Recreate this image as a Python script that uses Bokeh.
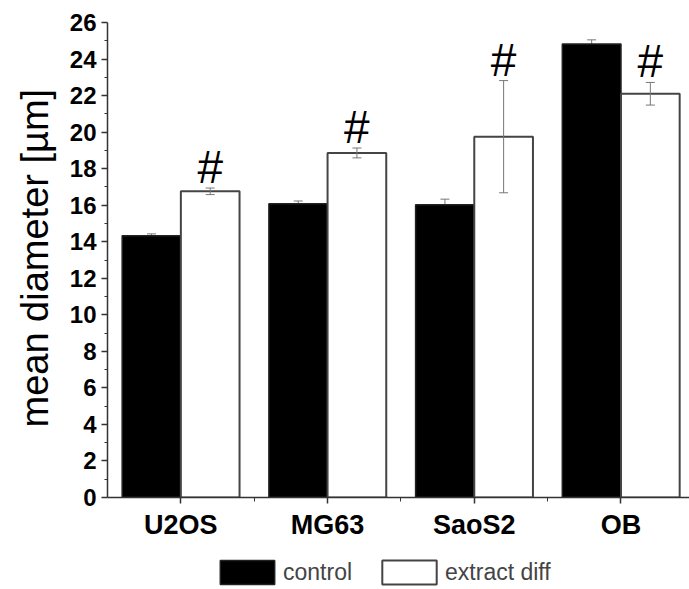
import numpy as np
from bokeh.plotting import figure
from bokeh.layouts import column
from bokeh.models import (ColumnDataSource, FixedTicker, Whisker, TeeHead, Legend,
                          LegendItem, Title, Range1d)
from bokeh.transform import dodge
from bokeh.core.properties import value
from bokeh.embed import file_html
from bokeh.resources import INLINE

cells = ["U2OS", "MG63", "SaoS2", "OB"]
control = [14.33, 16.08, 16.03, 24.83]
control_err = [0.10, 0.15, 0.30, 0.22]
extract = [16.76, 18.86, 19.75, 22.10]
extract_err = [0.18, 0.27, 3.07, 0.62]
significance = ["#", "#", "#", "#"]
y_ticks = list(range(0, 27, 2))
y_minor = list(range(1, 26, 2))
series_names = ["control", "extract diff"]

FONT = "Liberation Sans"
x = np.arange(len(cells))
c = np.array(control)
ce = np.array(control_err)
e = np.array(extract)
ee = np.array(extract_err)

src = ColumnDataSource(dict(
    x=x, control=c, extract=e,
    c_lo=c - ce, c_hi=c + ce, e_lo=e - ee, e_hi=e + ee,
    sig=significance,
))

CONTROL_STYLE = dict(fill_color="black", line_color="#222222", line_width=1.5)
EXTRACT_STYLE = dict(fill_color="white", line_color="#444444", line_width=2)

p = figure(width=689, height=547, x_range=Range1d(-0.5, 3.467), y_range=Range1d(0, 26),
           output_backend="svg", toolbar_location=None,
           min_border_left=105, min_border_right=0, min_border_top=22, min_border_bottom=50)
p.outline_line_color = None
p.grid.visible = False

p.vbar(x=dodge("x", -0.2), top="control", width=0.4, source=src, **CONTROL_STYLE)
p.vbar(x=dodge("x", 0.2), top="extract", width=0.4, source=src, **EXTRACT_STYLE)

wc = Whisker(base=dodge("x", -0.2), lower="c_lo", upper="c_hi", source=src,
             line_color="#777777", line_width=1, level="underlay",
             upper_head=TeeHead(size=9, line_color="#777777", line_width=1),
             lower_head=TeeHead(size=9, line_color="#777777", line_width=1))
we = Whisker(base=dodge("x", 0.2), lower="e_lo", upper="e_hi", source=src,
             line_color="#777777", line_width=1, level="overlay",
             upper_head=TeeHead(size=9, line_color="#777777", line_width=1),
             lower_head=TeeHead(size=9, line_color="#777777", line_width=1))
p.add_layout(wc)
p.add_layout(we)

p.text(x=dodge("x", 0.2), y="e_hi", text="sig", source=src, text_align="center",
       text_baseline="alphabetic", y_offset=-21, text_font_size="46px",
       text_font=value(FONT), text_color="black")

# axes
p.yaxis.ticker = FixedTicker(ticks=y_ticks, minor_ticks=y_minor)
p.yaxis.major_tick_out = 6
p.yaxis.major_tick_in = 0
p.yaxis.minor_tick_out = 3
p.yaxis.minor_tick_in = 0
p.yaxis.major_label_text_font_size = "24px"
p.yaxis.major_label_text_font_style = "bold"
p.yaxis.major_label_text_font = FONT
p.yaxis.major_label_text_color = "black"
p.yaxis.major_label_standoff = 5

p.xaxis.ticker = FixedTicker(ticks=list(x), minor_ticks=list(x[:-1] + 0.5))
p.xaxis.major_label_overrides = {int(i): name for i, name in zip(x, cells)}
p.xaxis.major_tick_out = 6
p.xaxis.major_tick_in = 0
p.xaxis.minor_tick_out = 4
p.xaxis.minor_tick_in = 0
p.xaxis.major_label_text_font_size = "27px"
p.xaxis.major_label_text_font_style = "bold"
p.xaxis.major_label_text_font = FONT
p.xaxis.major_label_text_color = "black"
p.xaxis.major_label_standoff = 6

for ax in (p.xaxis, p.yaxis):
    ax.axis_line_color = "#333333"
    ax.axis_line_width = 1.5
    ax.major_tick_line_color = "#333333"
    ax.minor_tick_line_color = "#333333"
    ax.major_tick_line_width = 1.5

ytitle = Title(text="mean diameter [µm]", align="left", offset=70, standoff=22,
               text_font_size="38px", text_font=FONT, text_font_style="normal",
               text_color="black")
p.add_layout(ytitle, "left")

# legend strip below the chart (frames are aligned with the chart's frame)
lg = figure(width=689, height=42, x_range=Range1d(0, 1), y_range=Range1d(0, 1),
            output_backend="svg", toolbar_location=None,
            x_axis_location=None, y_axis_location=None, min_border=0)
lg.outline_line_color = None
lg.grid.visible = False
k1 = lg.vbar(x="x", top="control", width=0.4, source=src, **CONTROL_STYLE)
k2 = lg.vbar(x="x", top="extract", width=0.4, source=src, **EXTRACT_STYLE)
k1.visible = False
k2.visible = False
legend = Legend(items=[LegendItem(label=series_names[0], renderers=[k1]),
                       LegendItem(label=series_names[1], renderers=[k2])],
                orientation="horizontal", location=(106, 2),
                glyph_width=68, glyph_height=30, label_text_font_size="23px",
                label_text_font=FONT, label_standoff=2, spacing=23,
                padding=0, margin=0, border_line_color=None,
                background_fill_alpha=0, inactive_fill_alpha=0)
lg.add_layout(legend, "center")

layout = column(p, lg, spacing=0)
open("out.html", "w").write(file_html(layout, INLINE))
